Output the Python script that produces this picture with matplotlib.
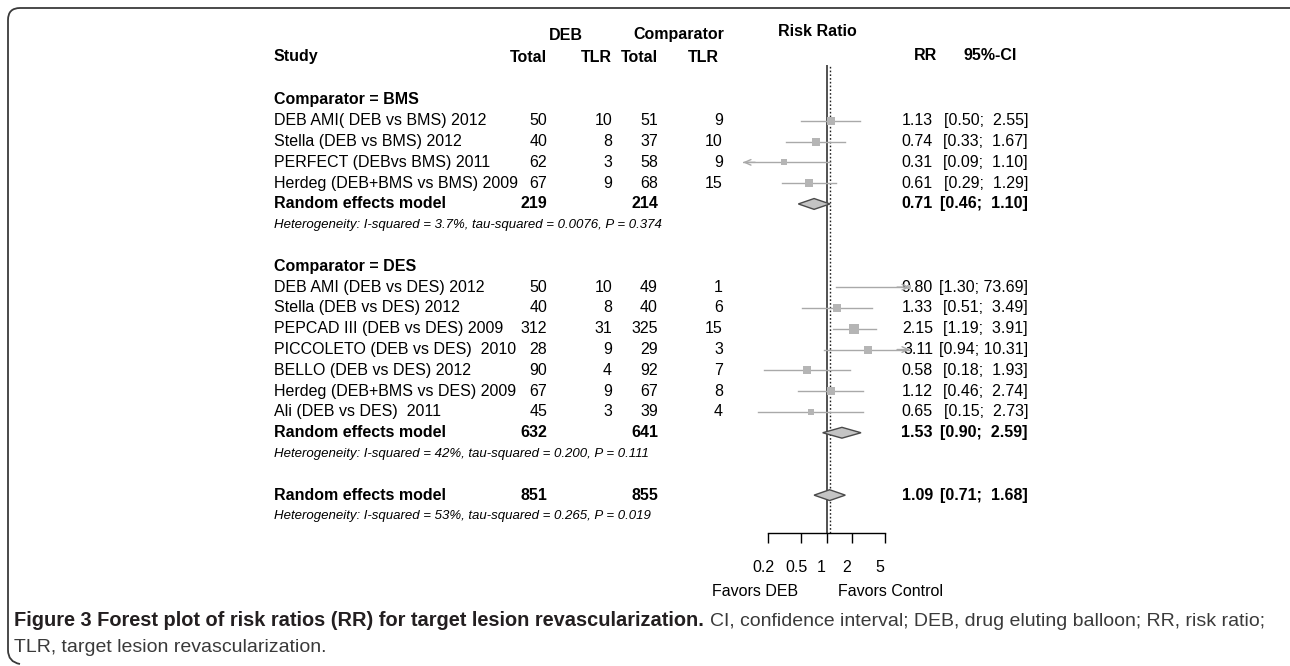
import numpy as np
import matplotlib
matplotlib.use("Agg")
import matplotlib.pyplot as plt
from matplotlib.transforms import blended_transform_factory, ScaledTranslation
from matplotlib.path import Path
from matplotlib.patches import PathPatch
from matplotlib.ticker import NullLocator

plt.rcParams["font.family"] = ["Liberation Sans", "DejaVu Sans"]

# ---- data ----
bms_studies = ["DEB AMI( DEB vs BMS) 2012", "Stella (DEB vs BMS) 2012",
               "PERFECT (DEBvs BMS) 2011", "Herdeg (DEB+BMS vs BMS) 2009"]
bms_deb_total = [50, 40, 62, 67]
bms_deb_tlr = [10, 8, 3, 9]
bms_cmp_total = [51, 37, 58, 68]
bms_cmp_tlr = [9, 10, 9, 15]
bms_rr = [1.13, 0.74, 0.31, 0.61]
bms_lo = [0.50, 0.33, 0.09, 0.29]
bms_hi = [2.55, 1.67, 1.10, 1.29]
bms_model = [219, 214, 0.71, 0.46, 1.10]
bms_het = "Heterogeneity: I-squared = 3.7%, tau-squared = 0.0076, P = 0.374"

des_studies = ["DEB AMI (DEB vs DES) 2012", "Stella (DEB vs DES) 2012",
               "PEPCAD III (DEB vs DES) 2009", "PICCOLETO (DEB vs DES)  2010",
               "BELLO (DEB vs DES) 2012", "Herdeg (DEB+BMS vs DES) 2009",
               "Ali (DEB vs DES)  2011"]
des_deb_total = [50, 40, 312, 28, 90, 67, 45]
des_deb_tlr = [10, 8, 31, 9, 4, 9, 3]
des_cmp_total = [49, 40, 325, 29, 92, 67, 39]
des_cmp_tlr = [1, 6, 15, 3, 7, 8, 4]
des_rr = [9.80, 1.33, 2.15, 3.11, 0.58, 1.12, 0.65]
des_lo = [1.30, 0.51, 1.19, 0.94, 0.18, 0.46, 0.15]
des_hi = [73.69, 3.49, 3.91, 10.31, 1.93, 2.74, 2.73]
des_model = [632, 641, 1.53, 0.90, 2.59]
des_het = "Heterogeneity: I-squared = 42%, tau-squared = 0.200, P = 0.111"

all_model = [851, 855, 1.09, 0.71, 1.68]
all_het = "Heterogeneity: I-squared = 53%, tau-squared = 0.265, P = 0.019"
tau2 = 0.265

ticks = [0.2, 0.5, 1, 2, 5]
tick_labels = ["0.2", "0.5", "1", "2", "5"]

# ---- figure ----
fig = plt.figure(figsize=(12.9, 6.66), dpi=100)
bg = fig.add_axes([0, 0, 1, 1])
bg.set_xlim(0, 1290)
bg.set_ylim(666, 0)
bg.axis("off")

# frame with rounded corners (top and left only)
r = 12
verts = [(1290, 8), (8 + r, 8), (8, 8), (8, 8 + r), (8, 662 - r), (8, 662), (8 + r, 664)]
codes = [Path.MOVETO, Path.LINETO, Path.CURVE3, Path.CURVE3, Path.LINETO, Path.CURVE3, Path.CURVE3]
bg.add_patch(PathPatch(Path(verts, codes), fill=False, ec="#3a3a3a", lw=1.3))

fa = fig.add_axes([743 / 1290, 1 - 533 / 666, 167 / 1290, 468 / 666], facecolor="none")
fa.set_xscale("log")
fa.set_xlim(0.1, 10)
fa.set_ylim(20.82, -1.68)
for s in ["top", "left", "right"]:
    fa.spines[s].set_visible(False)
fa.spines["bottom"].set_bounds(0.2, 5)
fa.spines["bottom"].set_linewidth(1.0)
fa.set_yticks([])
fa.set_xticks(ticks)
fa.set_xticklabels(tick_labels)
fa.xaxis.set_minor_locator(NullLocator())
fa.tick_params(axis="x", direction="out", length=7.2, width=1.0, pad=12, labelsize=11.5)
shift = ScaledTranslation(-5 / 100, 0, fig.dpi_scale_trans)
for lab in fa.get_xticklabels():
    lab.set_transform(lab.get_transform() + shift)

fa.axvline(1, color="#222222", lw=1.1)
fa.axvline(all_model[2], color="#222222", lw=1.0, ls=(0, (1.2, 1.5)))

tr = blended_transform_factory(bg.transData, fa.transData)
fs = 11.5
txt = dict(transform=tr, fontsize=fs, va="center", clip_on=False)

x_study, x_dt, x_dtlr, x_ct, x_ctlr, x_rr, x_ci = 274, 547, 612, 658, 723, 933, 1028

# headers
hd = dict(fontsize=fs, fontweight="bold", va="center")
bg.text(566, 36, "DEB", ha="center", **hd)
bg.text(679, 35, "Comparator", ha="center", **hd)
bg.text(817, 32, "Risk Ratio", ha="center", **hd)
bg.text(x_study, 57, "Study", ha="left", **hd)
bg.text(x_dt, 57, "Total", ha="right", **hd)
bg.text(x_dtlr, 57, "TLR", ha="right", **hd)
bg.text(x_ct, 57, "Total", ha="right", **hd)
bg.text(719, 57, "TLR", ha="right", **hd)
bg.text(937, 56, "RR", ha="right", **hd)
bg.text(990, 56, "95%-CI", ha="center", **hd)

line_col = "#a9a9a9"
box_col = "#b5b5b5"


def ci_str(lo, hi):
    return "[%.2f; %5.2f]" % (lo, hi)


def draw_model(row, model, het):
    nt, ct, est, lo, hi = model
    bkw = dict(txt, fontweight="bold")
    bg.text(x_study, row, "Random effects model", ha="left", **bkw)
    bg.text(x_dt, row, str(nt), ha="right", **bkw)
    bg.text(x_ct, row, str(ct), ha="right", **bkw)
    bg.text(x_rr, row, "%.2f" % est, ha="right", **bkw)
    bg.text(x_ci, row, ci_str(lo, hi), ha="right", **bkw)
    h = 0.26
    fa.fill([lo, est, hi, est], [row, row - h, row, row + h],
            fc="#c4c4c4", ec="#4a4a4a", lw=1.0, zorder=3)
    bg.text(x_study, row + 1, het, ha="left", transform=tr, fontsize=9.5,
            style="italic", va="center")


groups = [
    ("Comparator = BMS", bms_studies, bms_deb_total, bms_deb_tlr, bms_cmp_total, bms_cmp_tlr,
     bms_rr, bms_lo, bms_hi, bms_model, bms_het),
    ("Comparator = DES", des_studies, des_deb_total, des_deb_tlr, des_cmp_total, des_cmp_tlr,
     des_rr, des_lo, des_hi, des_model, des_het),
]

arrow = dict(arrowstyle="->,head_length=0.45,head_width=0.2",
             color=line_col, lw=1.0, shrinkA=0, shrinkB=0)

row = 0
for name, studies, dt, dtlr, ct, ctlr, rr, lo, hi, model, het in groups:
    bg.text(x_study, row, name, ha="left", fontweight="bold", **txt)
    for i in range(len(studies)):
        row += 1
        bg.text(x_study, row, studies[i], ha="left", **txt)
        bg.text(x_dt, row, str(dt[i]), ha="right", **txt)
        bg.text(x_dtlr, row, str(dtlr[i]), ha="right", **txt)
        bg.text(x_ct, row, str(ct[i]), ha="right", **txt)
        bg.text(x_ctlr, row, str(ctlr[i]), ha="right", **txt)
        bg.text(x_rr, row, "%.2f" % rr[i], ha="right", **txt)
        bg.text(x_ci, row, ci_str(lo[i], hi[i]), ha="right", **txt)

        fa.plot([lo[i], hi[i]], [row, row], color=line_col, lw=1.0, zorder=2)
        if lo[i] < 0.1:
            fa.annotate("", xy=(0.1, row), xytext=(0.14, row), arrowprops=arrow)
        if hi[i] > 10:
            fa.annotate("", xy=(10, row), xytext=(7, row), arrowprops=arrow)
        # box area proportional to random-effects weight
        se = (np.log(hi[i]) - np.log(lo[i])) / (2 * 1.96)
        w = 1 / (se ** 2 + tau2)
        side = 5.6 * np.sqrt(w)
        fa.scatter([rr[i]], [row], marker="s", s=(side * 0.72) ** 2, color=box_col,
                   linewidths=0, zorder=3)
    row += 1
    draw_model(row, model, het)
    row += 3

draw_model(row, all_model, all_het)

bg.text(755, 591, "Favors DEB", ha="center", va="center", fontsize=fs)
bg.text(891, 591, "Favors Control", ha="center", va="center", fontsize=fs)

# caption
cap1 = bg.text(14, 621, "Figure 3 Forest plot of risk ratios (RR) for target lesion revascularization.",
               ha="left", va="center", fontsize=14.4, fontweight="bold", color="#231f20")
fig.canvas.draw()
bb = cap1.get_window_extent()
x_end = bg.transData.inverted().transform((bb.x1, bb.y0))[0]
bg.text(x_end + 6, 621, "CI, confidence interval; DEB, drug eluting balloon; RR, risk ratio;",
        ha="left", va="center", fontsize=14, color="#3a3a3a")
bg.text(14, 647, "TLR, target lesion revascularization.",
        ha="left", va="center", fontsize=14, color="#3a3a3a")

fig.savefig("out.png", dpi=100)
